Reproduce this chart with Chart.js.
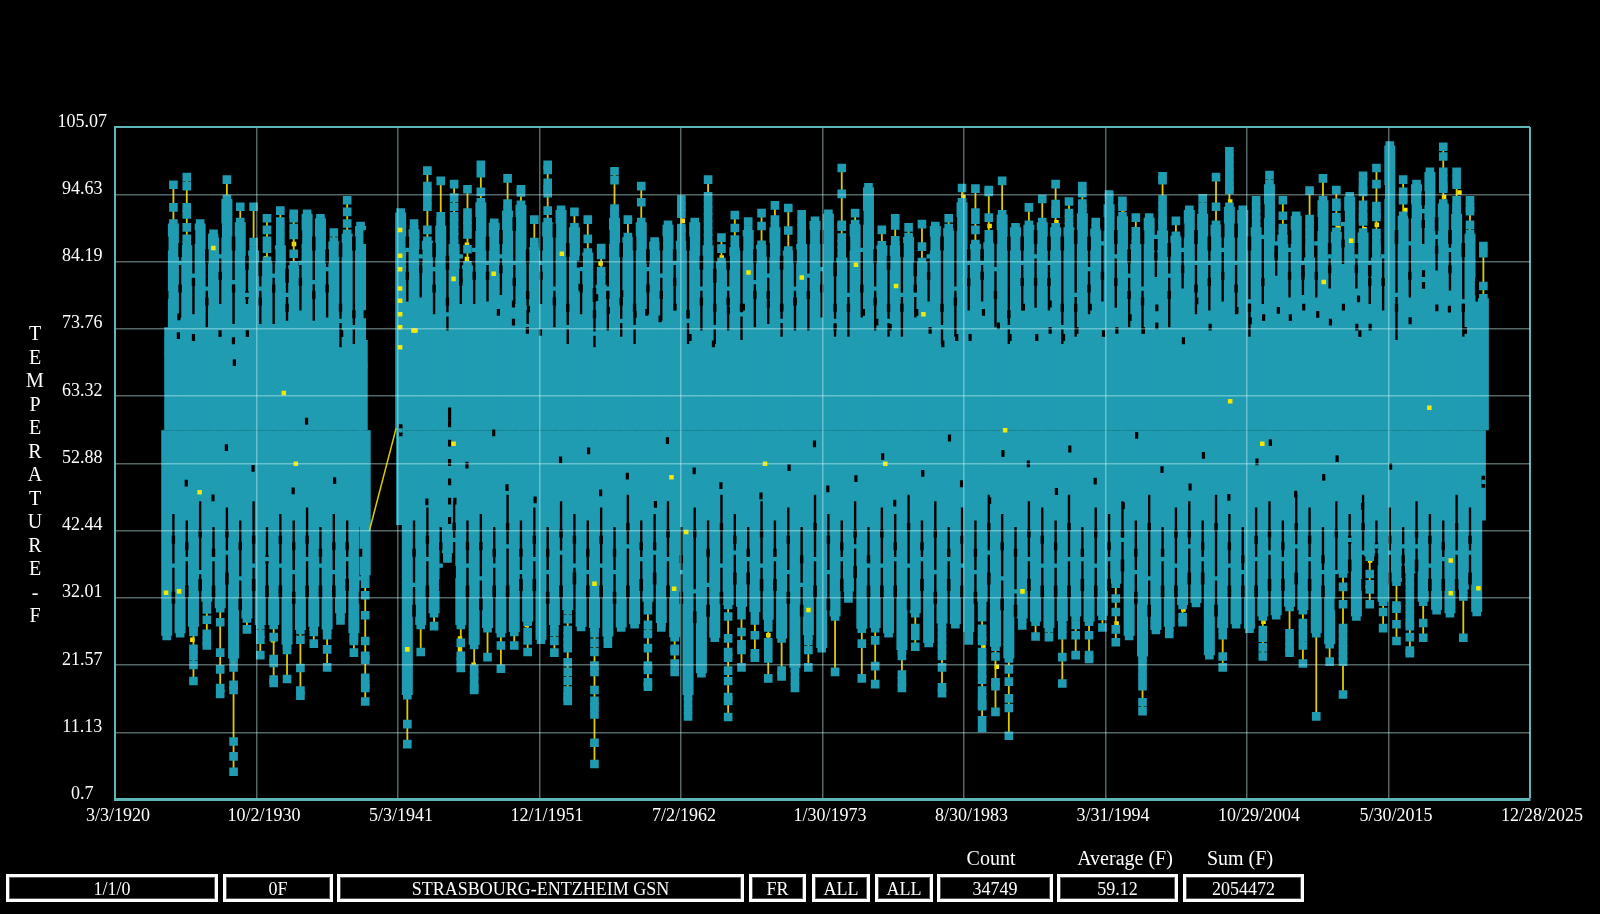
<!DOCTYPE html>
<html><head><meta charset="utf-8">
<script src="https://cdn.jsdelivr.net/npm/chart.js@4"></script>
<style>
html,body{margin:0;padding:0;background:#000;width:1600px;height:914px;overflow:hidden}
canvas{position:absolute;left:0;top:0}
#page{position:absolute;left:0;top:0;width:1600px;height:914px;font-family:"Liberation Serif",serif;color:#fff}
.b{position:absolute;top:874px;height:28px;box-sizing:border-box;border:3px solid #fff;box-shadow:inset 0 0 0 1px #555;font-size:18px;line-height:25px;text-align:center}
.h{position:absolute;top:846px;font-size:20px;line-height:24px;transform:translateX(-50%);white-space:nowrap}
#ytitle{position:absolute;left:20px;top:322px;width:30px;text-align:center;font-size:20px;line-height:23.5px}
</style></head><body>
<canvas id="c" width="1600" height="914"></canvas>
<div id="page">
<div id="ytitle">T<br>E<br>M<br>P<br>E<br>R<br>A<br>T<br>U<br>R<br>E<br>-<br>F</div>
<div class="h" style="left:991px">Count</div>
<div class="h" style="left:1125px">Average (F)</div>
<div class="h" style="left:1240px">Sum (F)</div>
<div class="b" style="left:6px;width:212px">1/1/0</div>
<div class="b" style="left:223px;width:110px">0F</div>
<div class="b" style="left:337px;width:407px">STRASBOURG-ENTZHEIM GSN</div>
<div class="b" style="left:749px;width:57px">FR</div>
<div class="b" style="left:812px;width:58px">ALL</div>
<div class="b" style="left:875px;width:58px">ALL</div>
<div class="b" style="left:937px;width:116px">34749</div>
<div class="b" style="left:1057px;width:121px">59.12</div>
<div class="b" style="left:1183px;width:121px">2054472</div>
</div>
<script>
const xTickLabels=["3/3/1920","10/2/1930","5/3/1941","12/1/1951","7/2/1962","1/30/1973","8/30/1983","3/31/1994","10/29/2004","5/30/2015","12/28/2025"];
const yTickLabels=[105.07,94.63,84.19,73.76,63.32,52.88,42.44,32.01,21.57,11.13,0.7];

const summerYears=[1924,1925,1926,1927,1928,1929,1930,1931,1932,1933,
1934,1935,1936,1937,1938,1941,1942,1943,1944,1945,
1946,1947,1948,1949,1950,1951,1952,1953,1954,1955,
1956,1957,1958,1959,1960,1961,1962,1963,1964,1965,
1966,1967,1968,1969,1970,1971,1972,1973,1974,1975,
1976,1977,1978,1979,1980,1981,1982,1983,1984,1985,
1986,1987,1988,1989,1990,1991,1992,1993,1994,1995,
1996,1997,1998,1999,2000,2001,2002,2003,2004,2005,
2006,2007,2008,2009,2010,2011,2012,2013,2014,2015,
2016,2017,2018,2019,2020,2021,2022];
const summerTop=[90.1,86.7,90.1,88.5,93.9,90.3,85.9,84.3,86.7,83.6,
91.6,90.9,87.3,88.5,89.7,91.8,89.2,87.4,89.8,86.9,
83.6,93.4,90.2,92.1,93.0,86.4,90.3,92.2,89.5,85.6,
80.6,91.0,88.0,90.3,87.3,89.9,87.4,90.3,86.7,84.1,
86.4,89.1,86.8,89.5,85.9,86.9,90.5,91.6,84.8,90.0,
95.7,86.7,86.7,88.0,84.1,89.7,89.4,93.4,86.9,87.2,
91.5,89.5,89.9,90.3,89.5,89.5,91.7,89.3,93.1,91.2,
86.9,91.0,89.0,88.2,92.2,91.6,89.9,92.7,92.2,89.5,
96.2,88.4,91.3,84.8,93.7,88.8,94.3,88.7,84.8,102.2,
91.3,96.2,98.1,93.2,91.6,88.5,78.5];
const summerMarks=[[96.1,92.6],[97.3,95.9,92.6,91.5,89.5,87.7],[],[],[96.9],[92.7],[92.7,87.2],[90.9,89.1,87.4,86.2],[92.1,90.4,89.2,88.0],[91.6,90.9,89.4,88.3,85.4],
[],[],[88.7],[93.7,91.9,90.1],[],[],[90.1],[98.3,95.9,94.8,93.7,92.7,89.1],[96.7,91.2,90.4],[96.2,94.1,92.7,91.2,90.1,89,88],
[95.4,91.8,90.7,89.6,88.4,86.1],[99.2,97.9,95],[],[97.1,93.2],[95.4,94.9],[90.7,87.2],[99.2,98.4,96.4,95.4,94.8,92.1],[],[91.9],[90.7,87.7],
[86.3,85.2,82.7,81.8],[98.2,96.8,92.4,91.9],[90.7],[95.9,93.4],[],[],[93.8,92.7,91.6,89.4,88.6],[],[96.9,94.3,93.2,92.1,91,89.9,88.8,87.8],[87.9,86.2],
[91.4,89.4,87.6],[90.4],[91.7,89.7],[92.9,90.7],[92.5,89],[91.5,90.4,89.3,88],[],[],[98.7,94.7,89.9,89.6,87.9,86.9,86],[91.7],
[],[89.1],[90.9,89.8,87.5],[89.5],[90,86.5],[],[90.9],[95.6],[95.5,91.8,90.7,89.1],[95.3,95,91,88.4],
[96.7],[],[92.6],[93.9],[96.2,93.1,92.0,91.6],[93.5,91.7,90.7],[95.9,94.8,93.2,92.5],[90.3],[94.6,94.2],[93.6,92.7],
[91,88.9,87.8],[],[97.4,96.8,93.8,92.7,91.6,90.5,90.1],[90.5],[],[94,92.6],[97.3,92.7],[101.3,100.2,99.1,98,96.9,95.8,95.3],[],[93.7,92.6,91.5,90.6],
[97.6],[93.7,91.3,89.4],[],[95.2,90.8,89.7,88.6,87.5,86.4,86],[97.1],[95.3,93.3,92.7,91.1,90.4],[],[97.5,96.4,95.3,95,93,91.9,91,90.4],[98.7,96.2,92.8,91.7,91.1,88.6,87.5,86.4,86],[],
[96.9,95,94,93.7],[],[],[102,100.5,98.1,97,95.9,95.5],[98.1,97,96.1,93.7,92.6,92.4],[93.7,92.6,92,89.9],[86.6,85.5,80.4]];
const lowerFillBottom=[45,44,47,43,46,44,47,43,45,44,
46,43,45,44,43,58,44,46,43,47,
44,45,43,48,44,46,43,47,45,44,
46,43,48,44,45,47,43,46,44,48,
45,43,47,44,46,43,48,45,44,47,
43,46,45,48,44,47,43,46,44,48,
45,43,47,46,44,48,43,46,45,47,
44,48,43,46,47,44,48,45,43,46,
47,44,48,46,43,47,45,48,44,46,
43,47,45,44,48,46,44];

const winterYears=[1924,1925,1926,1927,1928,1929,1930,1931,1932,1933,
1934,1935,1936,1937,1938,1938.85,1942,1943,1944,1945,
1946,1947,1948,1949,1950,1951,1952,1953,1954,1955,
1956,1957,1958,1959,1960,1961,1962,1963,1964,1965,
1966,1967,1968,1969,1970,1971,1972,1973,1974,1975,
1976,1977,1978,1979,1980,1981,1982,1983,1984,1985,
1986,1987,1988,1989,1990,1991,1992,1993,1994,1995,
1996,1997,1998,1999,2000,2001,2002,2003,2004,2005,
2006,2007,2008,2009,2010,2011,2012,2013,2014,2015,
2016,2017,2018,2019,2020,2021,2022];
const winterBottom=[26.1,26.5,27.5,31.4,30.4,22.6,28.8,27.8,27.8,24.7,
27.0,27.5,27.1,29.6,26.5,35.5,16.9,27.8,29.6,38.9,
27.8,24.7,27.3,26.5,26.7,28.3,25.5,27.8,30.1,27.5,
27.3,26,27.4,27.9,31.4,28.1,25.9,16.9,20.3,25.8,
30.9,30.6,29.8,28.6,25.7,21.1,26.2,24.2,29.1,33,
27.2,27.3,26.5,23.9,29.6,25,28,27.9,26.7,31.4,
24.4,22.6,28.8,28.3,27.3,28.4,29.1,28.3,29.2,34.2,
26.1,22.9,27,27.5,30.9,31.2,23.1,27.3,27.9,27.2,
29.1,29.3,30.6,30.1,26.5,24.8,35.8,29.1,38.4,31.4,
34.5,35.8,31.4,30.1,29.6,33.3,29.8];
const winterMarks=[[],[],[26.7,24.1,23,21.6,19.1],[30.2,28.6,26.4,25.3,24.6],[28.2,23.5,20.9,18,17.1],[21.2,18.5,17.7,9.7,7.4,5],[27.1],[26.4,25.5,23.1],[25.9,22.5,21.9,19.3,18.8],[23.9,19.4],
[25.5,21.1,17.6,16.8],[26.7,24.9],[26.2,24,21.2],[28.5],[25.6,25.3,23.5],[34.2,32.4,29.3,25.3,23,22.4,19.6,18.5,18,15.9],[12.4,9.3],[23.6],[27.6],[38.1],
[25,23,22.1,21.1],[21,20,19,18,17.7],[22.8],[24.6,21],[24.6],[26.7,25.4,23.6],[],[26.7,25.3,23.5],[28.7,27,26,25,24.2,22,20.5,19.1,17.6,16.6,16],[],
[26.5,25,23.6,21.5,20.5,17.7,16,15,13.9,9.5,6.2],[24.9],[],[],[30.1,27.8,26.4,24.2,21.5,20.8,18.9,18.2],[27.4],[24.1,23.7,21.8,20.5],[15.8,14.7,13.6],[],[],
[29.1,25.7,23.6,22.7,20.7,19.1,16.6,16,13.5],[29.3,26.7,24.8,23.9,21.2],[28.5,26.2,23.4,22.7],[27.4,25.1,23.9,22.6,19.5],[20.7,19.8],[20.2,19.1,18],[25.3,23.9,21.2],[],[20.5],[31.9],
[24.9,19.5],[25.4,21.4,18.6],[],[23,20.1,19,18],[27.3,26.1,24.4],[],[27,26,25,24,23,21.2,18.1,17.2],[],[25.4],[30.3,29,27.2,26,25.3,23.6,22.5,21.4,20.3,19.3,17.6,16.5,15.4,15.2,13,11.8],
[22.9,18.9,18.3,14.3],[20.9,19,16.4,14.9,10.6],[27.7],[26],[25.9],[27.2,26.2,22.8,18.7],[27.8,26.2,23.1],[26.2,23.1,22.5],[27.4],[31.9,29.8,27.1,25.1],
[],[21.7,20.6,19.5,18.3,15.8,14.4],[],[26.4],[29,28.2],[],[],[26.2,22.9,21.2],[],[],
[27,25.8,24.3,22.9],[],[26.5,25.4,24.3,23.5],[28.1,27,25.9,24.6,21.8],[13.6],[22.1],[33.7,31,27.3,26.2,25.1,24,22.9,22.1,17],[],[35.7,34.1,33.3,31],[29.8,27.3],
[30.8,30.3,27.9,25.3],[34.7,33.6,32.5,31.4,30.3,29.2,28.1,27.6,25.9,23.8,23.4],[28.1,25.8],[],[],[32.2,25.8],[]];
const upperFillTop=[74,75.5,76,74,77.6,74.5,77.6,74.5,74.5,75,
76.6,75,75.5,70.9,71.4,72,78,78.6,76,73.5,
77.6,77.6,78,79,77.6,74.5,77.6,74,71.4,76,
70.9,73.5,72.5,71.4,76,75,76.6,71.4,73.5,71.4,
73.5,72,74,74.5,72.5,73.5,73.5,75.5,72.5,72.5,
75.5,73.5,72.5,72.5,75.5,78,71.4,72.5,76.6,78,
74,71.4,76.6,77,76.6,71.4,72.5,76,78,77,
74,73,81.8,74,80,76,76.6,78,76,72.5,
77.6,82,78.6,79,78.6,80,83.8,80,77.6,76.6,
72,78.6,86.9,82.8,79.7,72.5,78];

/* wider stretches and bridged stretches of the black slits between the yearly columns */
const upperWideHigh=[87,86,88,85,89,87,84,83,85,82,
88,87,85,86,87,88,87,85,86,84,
82,90,87,88,90,85,87,89,86,84,
79,88,86,87,85,87,85,87,84,82,
84,87,85,86,84,85,88,88,83,87,
91,85,84,86,83,87,87,90,85,85,
88,87,87,88,87,87,88,87,90,88,
85,88,87,86,89,88,87,89,89,87,
92,86,88,83,90,86,91,86,83,95,
88,92,94,90,88,86,80];
const upperWideLow=[79,80,81,78,82,80,79,78,80,77,
81,79,80,77,76,76,82,83,80,78,
81,82,82,83,81,79,82,78,77,80,
76,79,78,77,80,79,81,76,78,77,
78,77,79,79,77,78,79,80,77,77,
80,78,77,77,80,82,77,78,81,82,
79,76,81,81,81,77,77,80,82,81,
79,78,85,79,83,80,81,82,80,77,
81,85,82,82,82,83,87,83,81,81,
77,82,90,86,83,77,81];
const upperBridge=[70,84,82,80,85,81,79,80,82,79,
84,81,83,75,74,68,86,85,83,76,
85,86,84,85,84,77,84,80,74,83,
73,80,75,74,83,82,84,75,80,74,
80,76,81,82,75,80,82,83,75,79,
86,80,75,79,79,85,74,80,84,84,
83,74,84,85,84,74,79,83,87,85,
82,80,88,82,86,84,84,86,84,78,
88,87,86,84,87,85,90,85,84,85,
79,87,92,88,86,78,76];
const lowerWideHigh=[41,40,42,39,42,40,41,38,41,40,
41,39,40,40,39,58,39,41,40,43,
40,40,39,43,39,41,39,42,41,39,
41,39,43,40,40,42,38,42,39,43,
41,39,42,39,41,38,43,41,40,42,
38,42,40,43,40,42,39,41,39,43,
40,39,42,41,40,43,39,42,40,42,
39,43,39,42,42,40,43,40,38,41,
42,40,43,41,38,42,41,43,40,41,
38,42,41,40,43,41,50];
const lowerWideLow=[32,33,34,33,35,31,34,33,33,32,
33,33,33,34,32,58,30,33,34,36,
33,31,33,33,34,34,32,33,35,33,
33,32,33,34,35,33,32,29,30,32,
35,35,34,34,32,30,33,31,34,36,
33,33,33,31,34,32,34,33,32,35,
31,30,34,33,33,33,34,33,34,37,
32,30,33,33,35,35,30,33,33,33,
34,34,35,34,33,31,37,34,38,35,
36,37,34,34,34,35,50];
const lowerBridge=[37,38,36,38,39,35,37,38,37,36,
38,37,36,38,35,58,34,38,37,41,
37,35,37,40,36,38,36,39,37,36,
37,36,40,38,39,38,36,33,34,37,
39,38,37,38,36,34,38,36,38,40,
37,37,38,37,38,36,38,37,36,39,
35,33,38,37,37,38,38,37,38,41,
36,35,38,37,40,38,35,37,36,38,
39,38,40,38,36,36,41,39,40,39,
40,40,37,38,39,39,50];

const midTemp=58;
const restartYears=[1941];
const restartLows=[43.3];
const connectorYears=[1939.2,1941.2];
const connectorTemps=[42.4,58.3];

const holeYears=[1924.91,1926.04,1928.03,1929.03,1930.07,1937.13,1924.95,1929.1,1948.85,1949.98,
1949.98,1951.1,1951.02,1952,1954.84,1954.96,1956.2,1957.08,1958.08,1959.08,
1959.95,1960.95,1962.07,1963.19,1964.94,1966.06,1967.18,1969.05,1970.05,1971.05,
1974.04,1976.16,1977.16,1978.16,1980.15,1981.15,1982.1,1983.14,1984.14,1985.14,
1986.26,1987.13,1988.13,1989.13,1990.13,1990.13,1991.13,1992.13,1993.13,1994.12,
1995.12,1996.11,1997.11,1998.11,1998.11,2000.1,2001.1,2002.1,2004.1,2005.1,
2006.1,2007.2,2008.1,2009.1,2010.15,2011.1,2012.07,2013.07,2013.2,2013.3,
2014.07,2017.06,2018.06,2018.06,2019.06,2020,2021.2,
1925.5,1927.5,1930.5,1933.5,1936.6,1943.5,1946.5,1949.5,1951.6,1953.5,
1956.5,1958.5,1960.6,1963.5,1965.5,1968.5,1970.6,1973.5,1975.6,1978.5,
1980.6,1983.5,1985.6,1988.5,1990.6,1993.5,1995.6,1998.5,2000.6,2003.5,
2005.6,2008.5,2010.6,2013.5,2015.6,1928.5,1948.5,1955.6,1961.5,1972.5,
1977.6,1982.6,1986.6,1991.6,1996.6,2001.6,2006.6,2011.6,1934.5,1945.6,
1945.2,1945.2,1945.2,1945.2,1945.2,1945.2,1945.2,1945.2];
const holeTemps=[72.7,72.4,73,71.9,73,73,75.6,68.5,76.3,77.6,
74.8,76.8,73.5,73.2,83.8,80.2,78.6,76.6,79.2,76,
76.3,75.3,77.1,72.4,71.4,76.6,77.1,77.6,77.1,78.1,
74,76.3,74.8,74,76.3,73.5,71.4,72.4,72.4,76.3,
74.2,72.4,77.1,72.4,77.6,73.5,72.4,73.5,77.1,73,
73.5,75.5,73.5,77,74.2,71.9,78.1,74,76.6,75,
75.5,76.6,75.5,77.1,76,74.8,77.1,74,78.4,73,
74,75,82.3,80.5,77,76.8,73.5,
49.8,47.5,52.1,48.6,50.2,46.9,52.6,49.1,47.2,53.4,
48.3,50.9,46.5,51.7,49.4,47.8,52.2,48.9,50.5,46.7,
51.3,49.7,47.1,52.8,48.5,50.1,46.3,51.9,49.2,47.6,
53.1,48.1,50.7,46.2,52.4,55.3,57.6,54.8,56.4,55.9,
53.9,56.8,54.4,55.1,57.2,54.1,56.1,53.6,59.4,47,
61,60,59,56,53,50,47,44];

const speckYears=[1927.53,1931.47,1933.56,1933.56,1932.57,1941.5,1941.5,1941.5,1941.5,1941.5,
1941.5,1941.5,1941.5,1942.5,1942.65,1945.5,1946.5,1946.5,1948.5,1956.5,
1956.5,1962.65,1962.65,1964.56,1965.56,1967.56,1971.55,1953.6,1983.64,1990.6,
1985.6,1975.6,1978.6,1980.65,1995.6,1974.67,2003.6,2016.7,2019.6,2010.6,
2012.65,2009.65,2005.6,2014.57,2013.65,2011.7,2020.75,1923.99,1924.96,1925.96,
1929.03,1932,1942.04,1945.98,1945.98,1947,1956.04,1962,1969.05,1972.05,
1950.97,1986.14,1988.06,1985.14,1995.1,2006.09,2000.1,2020.1,2020.1,2022.17,
2017.1,2014.07,1986.76,2003.6,1977.8,1926.5,1933.7,1932.8,1945.5,2006,
2018.5,1968.8,1961.8,1962.9];
const speckTemps=[86.3,84.7,86.9,83.8,87,89.1,85.1,83,80,78.1,
76,74,70.9,73.5,73.5,81.5,84.6,86.8,82.3,83.9,
80.9,90.5,87.7,87,84.8,82.5,81.7,85.4,94.2,90.3,
89.7,83.7,80.4,76,91.6,85.1,93.5,92.2,94.2,81,
87.4,85.1,89.8,89.9,89.2,89.4,94.9,32.8,33,25.5,
22.2,25.4,24,25.7,24,21.6,34.2,33.4,26.2,30.1,
27.8,21.3,33,24.4,28,28.3,30.2,32.7,37.8,33.5,
35.5,37.8,58,62.5,52.8,48.4,52.8,63.8,55.9,55.9,
61.5,52.8,50.7,42.2];

const YEAR0=1920.17, TICK_DAYS=3866.5, SUMMER=0.54, WINTER=0.04;
const teal='#1f9cb2', yellow='#dccb00', speck='#f4e800', frame='#5db7b9', grid='rgba(200,245,245,0.42)';
const dayOf=(y,f)=>(y+f-YEAR0)*365.25;
const spire=(data,w,order)=>({type:'bar',data,backgroundColor:teal,borderWidth:0,barThickness:w,grouped:false,order,inflateAmount:0});
const chain=(years,frac,ends,marks,fromEnd)=>{
  const out=[];
  years.forEach((y,i)=>{
    const x=dayOf(y,frac);
    const vals=fromEnd?[ends[i],...marks[i]]:[...marks[i],ends[i]];
    vals.forEach(v=>out.push({x,y:v}));
    out.push({x,y:null});
  });
  return out;
};
const pairs=(years,frac,temps)=>years.map((y,i)=>({x:dayOf(y,frac),y:temps[i]}));
const pointsDs=(data,opts)=>Object.assign({type:'line',data,showLine:false,pointStyle:'rect',pointBorderWidth:0,pointHoverRadius:0},opts);
const dashDs=(data,w,r,order)=>({type:'line',data,showLine:false,pointStyle:'line',pointRotation:90,pointRadius:r,pointBorderWidth:w,pointBorderColor:'#000',order});
const marksDs=(data,order)=>({type:'line',data,showLine:true,spanGaps:false,borderColor:yellow,borderWidth:1.8,tension:0,pointStyle:'rect',pointRadius:6.1,pointBorderWidth:0,pointBackgroundColor:teal,order});

const summerSpires=summerYears.map((y,i)=>({x:dayOf(y,SUMMER),y:[midTemp,summerTop[i]]}));
const winterSpires=winterYears.map((y,i)=>({x:dayOf(y,WINTER),y:[winterBottom[i],midTemp]}));
const upperFill=winterYears.map((y,i)=>({x:dayOf(y,WINTER),y:[midTemp,upperFillTop[i]]}));
const lowerFill=summerYears.map((y,i)=>({x:dayOf(y,SUMMER),y:[lowerFillBottom[i],midTemp]}));
const restart=restartYears.map((y,i)=>({x:dayOf(y,SUMMER),y:[restartLows[i],midTemp]}));

new Chart(document.getElementById('c'),{
  type:'bar',
  data:{datasets:[
    spire(summerSpires,11,20),
    spire(winterSpires,11,19),
    spire(upperFill,5,18),
    spire(lowerFill,5,17),
    spire(restart,9,16),
    dashDs(pairs(winterYears,WINTER,upperWideHigh),3.6,7,15),
    dashDs(pairs(winterYears,WINTER,upperWideLow),3.4,4,15),
    dashDs(pairs(summerYears,SUMMER,lowerWideHigh),3.4,4,15),
    dashDs(pairs(summerYears,SUMMER,lowerWideLow),3.6,6,15),
    pointsDs(pairs(winterYears,WINTER,upperBridge),{pointRadius:3,pointBackgroundColor:teal,order:14}),
    pointsDs(pairs(summerYears,SUMMER,lowerBridge),{pointRadius:3,pointBackgroundColor:teal,order:14}),
    dashDs(pairs(holeYears,0,holeTemps),3.2,3.4,10),
    pointsDs(pairs(speckYears,0,speckTemps),{pointRadius:3.2,pointBackgroundColor:speck,order:9}),
    {type:'line',data:pairs(connectorYears,0,connectorTemps),borderColor:yellow,borderWidth:1.5,pointRadius:0,tension:0,order:8},
    marksDs(chain(summerYears,SUMMER,summerTop,summerMarks,false),7),
    marksDs(chain(winterYears,WINTER,winterBottom,winterMarks,true),6)
  ]},
  options:{
    responsive:false,animation:false,
    layout:{padding:{left:0,top:127,right:70,bottom:0}},
    plugins:{legend:{display:false},tooltip:{enabled:false},title:{display:false}},
    events:[],
    scales:{
      x:{type:'linear',offset:false,min:0,max:TICK_DAYS*10,
        afterBuildTicks(s){s.ticks=xTickLabels.map((_,i)=>({value:i*TICK_DAYS}));},
        afterFit(s){s.height=114.5;s.paddingLeft=0;s.paddingRight=0;},
        ticks:{autoSkip:false,maxRotation:0,minRotation:0,align:'start',labelOffset:-29,padding:6,color:'#fff',
          font:{family:'"Liberation Serif"',size:18},callback(v,i){return xTickLabels[i];}},
        grid:{z:1,offset:false,drawTicks:false,lineWidth:c=>(c.index===10?2:1.5),color:c=>(c.index===10?frame:grid)},
        border:{display:true,color:frame,width:3,z:2}},
      y:{type:'linear',min:0.7,max:105.07,
        afterBuildTicks(s){s.ticks=yTickLabels.map(v=>({value:v}));},
        afterFit(s){s.width=115;s.paddingTop=0;s.paddingBottom=0;},
        ticks:{autoSkip:false,crossAlign:'center',labelOffset:-5,padding:8,color:'#fff',
          font:{family:'"Liberation Serif"',size:18},callback(v){return String(v);}},
        grid:{z:1,offset:false,drawTicks:false,lineWidth:c=>(c.tick&&c.tick.value===105.07?2:1.5),color:c=>(c.tick&&c.tick.value===105.07?frame:grid)},
        border:{display:true,color:frame,width:2,z:2}}
    }
  }
});
</script>
</body></html>
